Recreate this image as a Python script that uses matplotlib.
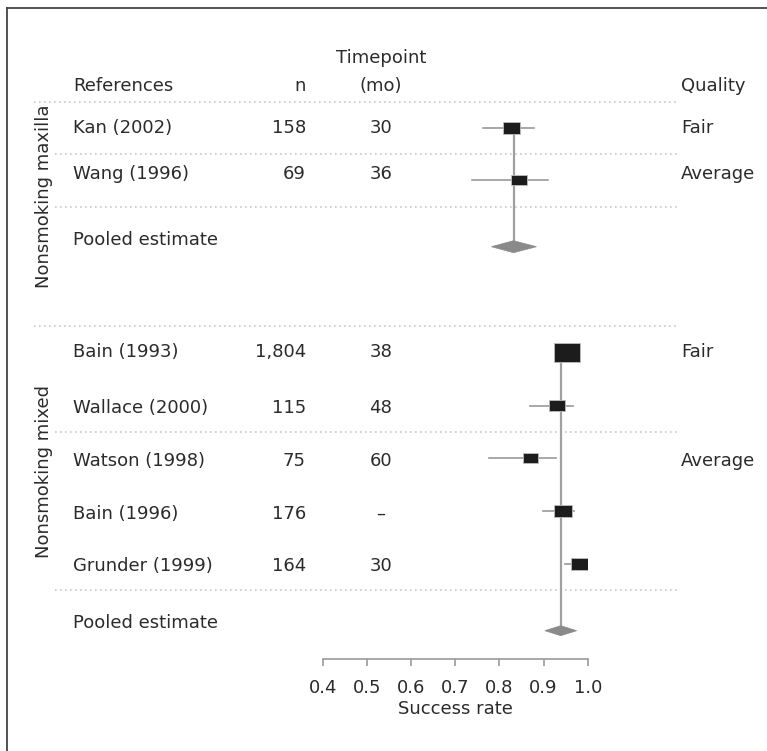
import matplotlib
matplotlib.use("Agg")
import matplotlib.pyplot as plt
from matplotlib.patches import Rectangle, Polygon

# --- data ---
references = ["Kan (2002)", "Wang (1996)", "Bain (1993)", "Wallace (2000)",
              "Watson (1998)", "Bain (1996)", "Grunder (1999)"]
groups = ["maxilla", "maxilla", "mixed", "mixed", "mixed", "mixed", "mixed"]
n_labels = ["158", "69", "1,804", "115", "75", "176", "164"]
timepoint = ["30", "36", "38", "48", "60", "\u2013", "30"]
quality = ["Fair", "Average", "Fair", "", "Average", "", ""]
estimate = [0.828, 0.844, 0.953, 0.931, 0.871, 0.944, 0.982]
ci_low = [0.762, 0.739, 0.945, 0.869, 0.777, 0.899, 0.948]
ci_high = [0.878, 0.910, 0.960, 0.966, 0.928, 0.969, 0.990]
weight = [1.0, 0.9, 1.45, 0.9, 0.85, 1.0, 1.02]  # relative box size

group_names = ["Nonsmoking maxilla", "Nonsmoking mixed"]
pooled_est = [0.832, 0.939]
pooled_low = [0.782, 0.903]
pooled_high = [0.884, 0.975]

ticks = [0.4, 0.5, 0.6, 0.7, 0.8, 0.9, 1.0]

# --- layout (pixel rows, figure is 767 x 751) ---
W, H = 767, 751
text_y = [128, 174, 352, 408, 461, 514, 566]
mark_y = [127.7, 180, 352, 405.7, 458.3, 510.7, 564]
pooled_text_y = [240, 623]
pooled_mark_y = [246.7, 630.7]
group_label_y = [196, 472]
sep_outer = [101.7, 326]
sep_inner = [154.3, 206.7, 431.7, 590]

txt = "#2b2b2b"
fs = 13

fig = plt.figure(figsize=(W / 100, H / 100), dpi=100)

# background axes in pixel coordinates for the table part
bg = fig.add_axes([0, 0, 1, 1])
bg.set_xlim(0, W)
bg.set_ylim(H, 0)
bg.axis("off")

# frame (left and top edge visible)
bg.plot([6.5, 6.5], [7.5, H], color="#444444", lw=1.3)
bg.plot([6.5, W], [7.5, 7.5], color="#444444", lw=1.3)

# headers
bg.text(73, 86, "References", fontsize=fs, color=txt, va="center", ha="left")
bg.text(300, 86, "n", fontsize=fs, color=txt, va="center", ha="center")
bg.text(381, 58, "Timepoint", fontsize=fs, color=txt, va="center", ha="center")
bg.text(381, 86, "(mo)", fontsize=fs, color=txt, va="center", ha="center")
bg.text(681, 86, "Quality", fontsize=fs, color=txt, va="center", ha="left")

# separators
dots = dict(color="#c8c8c8", lw=1.2, linestyle=(0, (1, 2)))
for y in sep_outer:
    bg.plot([34, 677], [y, y], **dots)
for y in sep_inner:
    bg.plot([55, 677], [y, y], **dots)

# rows
for i, ref in enumerate(references):
    y = text_y[i]
    bg.text(73, y, ref, fontsize=fs, color=txt, va="center", ha="left")
    bg.text(306, y, n_labels[i], fontsize=fs, color=txt, va="center", ha="right")
    bg.text(381, y, timepoint[i], fontsize=fs, color=txt, va="center", ha="center")
    if quality[i]:
        bg.text(681, y, quality[i], fontsize=fs, color=txt, va="center", ha="left")

for k, name in enumerate(group_names):
    bg.text(73, pooled_text_y[k], "Pooled estimate", fontsize=fs, color=txt,
            va="center", ha="left")
    bg.text(44, group_label_y[k], name, fontsize=fs, color=txt, rotation=90,
            va="center", ha="center")

# --- forest axes: x in success rate, y in pixel rows ---
x0_px, x1_px = 322.7, 587.7
ax = fig.add_axes([x0_px / W, 0, (x1_px - x0_px) / W, 1])
ax.patch.set_alpha(0)
ax.set_xlim(0.4, 1.0)
ax.set_ylim(H, 0)
px = 0.6 / (x1_px - x0_px)  # success-rate units per pixel

for k in range(2):
    idx = [i for i, g in enumerate(groups) if g == group_names[k].split()[-1]]
    top = mark_y[idx[0]]
    ax.plot([pooled_est[k], pooled_est[k]], [top, pooled_mark_y[k]],
            color="#a0a0a0", lw=1.6, zorder=2, clip_on=False)
    yd = pooled_mark_y[k]
    hh = 6 if k == 0 else 5
    ax.add_patch(Polygon([[pooled_low[k], yd], [pooled_est[k], yd - hh],
                          [pooled_high[k], yd], [pooled_est[k], yd + hh]],
                         closed=True, facecolor="#8a8a8a", edgecolor="#8a8a8a",
                         lw=0.5, zorder=3))

for i in range(len(references)):
    y = mark_y[i]
    ax.plot([ci_low[i], ci_high[i]], [y, y], color="#9a9a9a", lw=1.2, zorder=1)
    bw = 17.5 * weight[i]
    bh = 12 * weight[i] if i != 2 else 19
    ax.add_patch(Rectangle((estimate[i] - bw * px / 2, y - bh / 2), bw * px, bh,
                           facecolor="#1c1c1c", edgecolor="#bdbdbd", lw=0.6,
                           zorder=4))

for s in ["top", "left", "right"]:
    ax.spines[s].set_visible(False)
ax.spines["bottom"].set_position(("data", 658.5))
ax.spines["bottom"].set_color("#9a9a9a")
ax.spines["bottom"].set_linewidth(1.2)
ax.set_yticks([])
ax.set_xticks(ticks)
ax.set_xticklabels([f"{t:.1f}" for t in ticks])
ax.tick_params(axis="x", direction="out", length=5, width=1.2, color="#9a9a9a",
               labelsize=fs, labelcolor=txt, pad=10)
ax.set_xlabel("Success rate", fontsize=fs, color=txt, labelpad=2)

fig.savefig("out.png", dpi=100)
